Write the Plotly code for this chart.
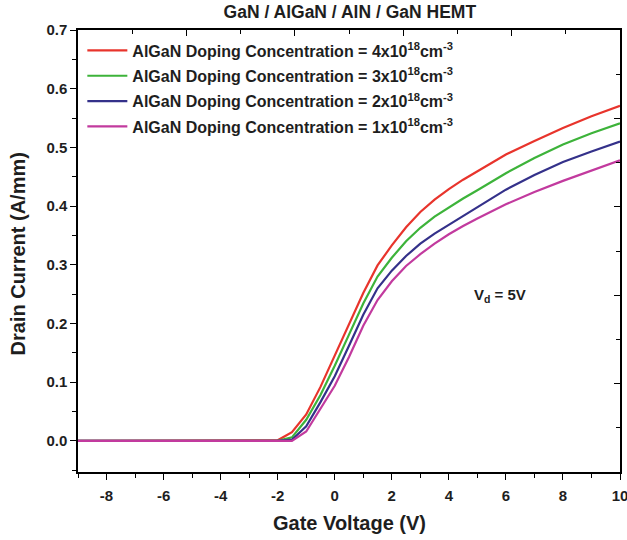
import plotly.graph_objects as go

# Gate voltage sweep (V)
gate_v = [-9, -8, -7, -6, -5, -4, -3, -2.5, -2, -1.5, -1, -0.5, 0, 0.5, 1, 1.5,
          2, 2.5, 3, 3.5, 4, 4.5, 5, 6, 7, 8, 9, 10]

# Drain current (A/mm) for each AlGaN doping level
id_4e18 = [0, 0, 0, 0, 0, 0, 0, 0, 0.001, 0.015, 0.045, 0.092, 0.145, 0.200, 0.252, 0.299,
           0.333, 0.364, 0.390, 0.411, 0.429, 0.445, 0.459, 0.488, 0.511, 0.533, 0.553, 0.571]
id_3e18 = [0, 0, 0, 0, 0, 0, 0, 0, 0, 0.006, 0.036, 0.078, 0.128, 0.181, 0.234, 0.280,
           0.312, 0.340, 0.363, 0.382, 0.398, 0.413, 0.427, 0.456, 0.482, 0.505, 0.524, 0.541]
id_2e18 = [0, 0, 0, 0, 0, 0, 0, 0, 0, 0.002, 0.025, 0.066, 0.110, 0.162, 0.215, 0.260,
           0.290, 0.315, 0.336, 0.353, 0.368, 0.383, 0.397, 0.428, 0.453, 0.475, 0.493, 0.510]
id_1e18 = [0, 0, 0, 0, 0, 0, 0, 0, 0, 0, 0.016, 0.056, 0.094, 0.143, 0.196, 0.240,
           0.272, 0.298, 0.318, 0.336, 0.352, 0.366, 0.379, 0.403, 0.424, 0.443, 0.460, 0.478]

series_names = [
    "AlGaN Doping Concentration = 4x10<sup>18</sup>cm<sup>-3</sup>",
    "AlGaN Doping Concentration = 3x10<sup>18</sup>cm<sup>-3</sup>",
    "AlGaN Doping Concentration = 2x10<sup>18</sup>cm<sup>-3</sup>",
    "AlGaN Doping Concentration = 1x10<sup>18</sup>cm<sup>-3</sup>",
]
series_values = [id_4e18, id_3e18, id_2e18, id_1e18]
series_colors = ["#e8342c", "#3db33a", "#34318a", "#c23a9e"]

# Axis tick positions and labels
x_tick_vals = [-8, -6, -4, -2, 0, 2, 4, 6, 8, 10]
x_tick_text = ["-8", "-6", "-4", "-2", "0", "2", "4", "6", "8", "10"]
y_tick_vals = [0.0, 0.1, 0.2, 0.3, 0.4, 0.5, 0.6, 0.7]
y_tick_text = ["0.0", "0.1", "0.2", "0.3", "0.4", "0.5", "0.6", "0.7"]

FONT = "Liberation Sans, Arial, sans-serif"
INK = "#1e1e1e"

fig = go.Figure()
for i, (name, vals, col) in enumerate(zip(series_names, series_values, series_colors)):
    fig.add_trace(go.Scatter(
        x=gate_v, y=vals, mode="lines", name=name, legendgroup=f"g{i}",
        line=dict(color=col, width=2.2),
    ))

axis_common = dict(
    showline=True, linecolor="black", linewidth=1.5,
    showgrid=False, zeroline=False, automargin=False,
    tickcolor="black", tickwidth=1.3,
    tickfont=dict(family=FONT, size=15, color=INK, weight="bold"),
)
frame_common = dict(
    showticklabels=False, ticks="inside", ticklen=6, dtick=2, tick0=0, range=[0, 10],
    minor=dict(dtick=1, ticks="inside", ticklen=4, tickcolor="black"),
    showline=True, linecolor="black", linewidth=1.5, showgrid=False, zeroline=False,
    tickcolor="black", tickwidth=1.3, automargin=False,
)

fig.update_layout(
    width=627, height=540,
    margin=dict(l=78, r=7, t=30, b=68),
    paper_bgcolor="white", plot_bgcolor="white",
    showlegend=True,
    legend=dict(
        x=0.008, y=0.992, xanchor="left", yanchor="top",
        bgcolor="rgba(0,0,0,0)",
        font=dict(family=FONT, size=16, color=INK, weight="bold"),
        tracegroupgap=1.5, itemwidth=40,
    ),
    title=dict(
        text="GaN / AlGaN / AlN / GaN HEMT",
        x=0.558, xanchor="center", y=0.978, yanchor="middle",
        font=dict(family=FONT, size=17.5, color=INK, weight="bold"),
    ),
    xaxis=dict(
        range=[-9, 10], tickmode="array", tickvals=x_tick_vals, ticktext=x_tick_text,
        ticks="outside", ticklen=6, ticklabelstandoff=3, ticklabeloverflow="allow",
        minor=dict(dtick=1, tick0=0, ticks="outside", ticklen=4, tickcolor="black"),
        **axis_common,
    ),
    yaxis=dict(
        range=[-0.053, 0.7], tickmode="array", tickvals=y_tick_vals, ticktext=y_tick_text,
        ticks="outside", ticklen=6,
        minor=dict(dtick=0.05, tick0=0, ticks="outside", ticklen=4, tickcolor="black"),
        **axis_common,
    ),
    # Frame axes on the top and right carrying their own inward ticks
    xaxis2=dict(overlaying="x", side="top", anchor="y", **frame_common),
    yaxis2=dict(overlaying="y", side="right", anchor="x", **frame_common),
    annotations=[
        dict(text="Drain Current (A/mm)", xref="paper", yref="paper",
             x=-0.111, y=0.494, textangle=-90, showarrow=False,
             xanchor="center", yanchor="middle",
             font=dict(family=FONT, size=20, color=INK, weight="bold")),
        dict(text="Gate Voltage (V)", xref="paper", yref="paper",
             x=0.5, y=-0.115, showarrow=False, xanchor="center", yanchor="middle",
             font=dict(family=FONT, size=20, color=INK, weight="bold")),
        dict(text="V<sub>d</sub> = 5V", xref="x", yref="y",
             x=5.78, y=0.247, showarrow=False, xanchor="center", yanchor="middle",
             font=dict(family=FONT, size=15, color=INK, weight="bold")),
    ],
)

# Invisible companion trace so the top/right frame axes are laid out
fig.add_trace(go.Scatter(x=[None], y=[None], xaxis="x2", yaxis="y2",
                         showlegend=False, hoverinfo="skip"))

fig.write_html("out.html")
